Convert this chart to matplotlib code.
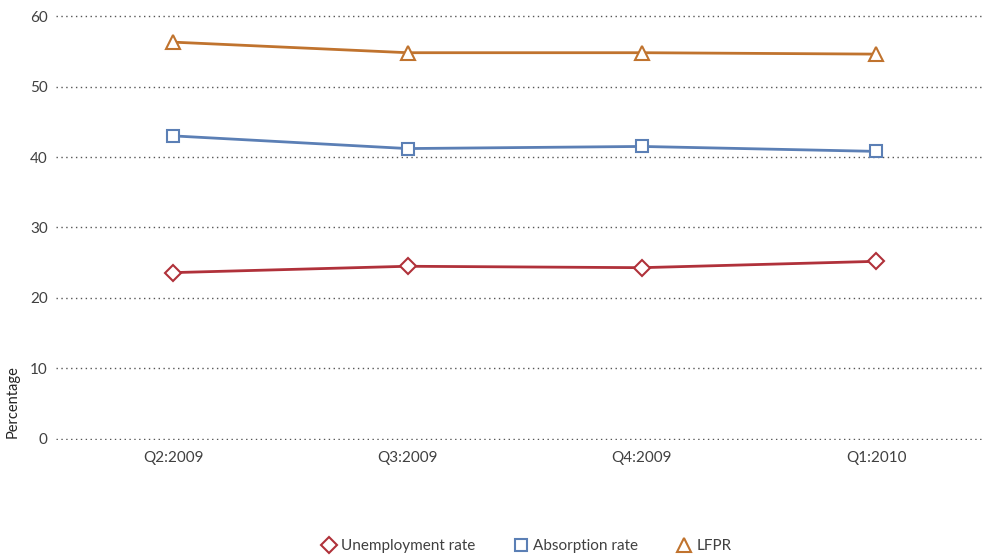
import matplotlib
matplotlib.use("Agg")
import matplotlib.pyplot as plt
from matplotlib.lines import Line2D

plt.rcParams['font.family'] = ['Lato', 'DejaVu Sans']

quarters = ["Q2:2009", "Q3:2009", "Q4:2009", "Q1:2010"]
unemployment = [23.6, 24.5, 24.3, 25.2]
absorption = [43.0, 41.2, 41.5, 40.8]
lfpr = [56.3, 54.8, 54.8, 54.6]

red = "#b0313a"
blue = "#5b7fb5"
orange = "#c0732e"
text_col = "#404040"

fig = plt.figure(figsize=(9.84, 5.6), dpi=100)
ax = fig.add_axes([56/984, 120/560, (984-56)/984, (440-15)/560])

x = list(range(len(quarters)))
series = [
    (unemployment, red, "D", 8, "Unemployment rate"),
    (absorption, blue, "s", 9, "Absorption rate"),
    (lfpr, orange, "^", 10, "LFPR"),
]
for vals, col, mk, ms, lab in series:
    ax.plot(x, vals, color=col, lw=2, marker=mk, ms=ms, mfc="white",
            mec=col, mew=1.5, label=lab, zorder=3)

ax.set_ylim(-0.15, 60.15)
ax.set_yticks(range(0, 61, 10))
ax.set_xlim(-0.5, 3.46)
ax.set_xticks(x)
ax.set_xticklabels(quarters)
ax.yaxis.grid(True, linestyle=(0, (1, 2.5)), color="#555555", lw=1)
ax.set_axisbelow(True)
for s in ax.spines.values():
    s.set_visible(False)
ax.tick_params(axis="both", length=0, labelsize=11, labelcolor=text_col)
ax.tick_params(axis="y", pad=6)
ax.tick_params(axis="x", pad=8)

fig.text(13/984, 1 - 402/560, "Percentage", rotation=90, ha="center",
         va="center", fontsize=10.5, color="#222222")

handles = [Line2D([], [], ls="none", marker=mk, ms=ms, mfc="white", mec=col,
                  mew=1.5, label=lab) for _, col, mk, ms, lab in series]
fig.legend(handles=handles, loc="center", bbox_to_anchor=(0.535, 1 - 546/560),
           ncol=3, frameon=False, fontsize=11, labelcolor=text_col,
           handletextpad=0.3, columnspacing=2.5, handlelength=1)

fig.savefig("out.png", dpi=100)
